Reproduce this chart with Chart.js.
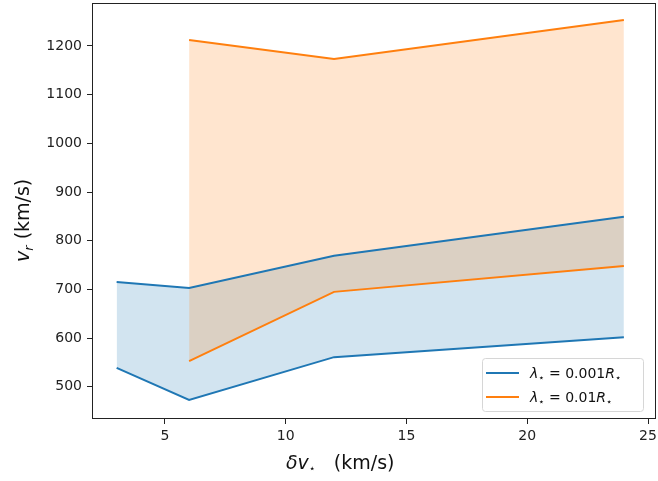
<!DOCTYPE html>
<html>
<head>
<meta charset="utf-8">
<script src="https://cdn.jsdelivr.net/npm/chart.js@4.4.1/dist/chart.umd.min.js"></script>
<style>
    html, body { margin: 0; padding: 0; background: #fff; }
</style>
</head>
<body>
<canvas id="chart" width="658" height="481"></canvas>
<script>
// values
const blueX = [3, 6, 12, 24];
const blueUpper = [715, 703, 769, 849];
const blueLower = [539, 473, 561, 602];
const orangeX = [6, 12, 24];
const orangeUpper = [1212, 1173, 1253];
const orangeLower = [553, 695, 748];
const xTicks = [5, 10, 15, 20, 25];
const yTicks = [500, 600, 700, 800, 900, 1000, 1100, 1200];
const legendLabels = ["0.001", "0.01"];

const BLUE = "#1f77b4";
const ORANGE = "#ff7f0e";
const FONT = "DejaVu Sans";

const pts = (xs, ys) => xs.map((x, i) => ({ x, y: ys[i] }));

// draw a run of text pieces: [text, size, style, dy]
function drawRuns(ctx, runs, x, y) {
    let cx = x;
    for(const [text, size, style, dy] of runs) {
        ctx.font = `${style} ${size}px "${FONT}"`;
        ctx.fillText(text, cx, y + dy);
        cx += ctx.measureText(text).width;
    }
    return cx;
}

const decor = {
    id: "decor",
    afterDraw(chart) {
        const { ctx, chartArea: a } = chart;
        ctx.save();

        // frame
        ctx.strokeStyle = "#222";
        ctx.lineWidth = 1;
        ctx.strokeRect(a.left + 0.5, a.top + 0.5, a.right - a.left - 1, a.bottom - a.top - 1);

        ctx.fillStyle = "#111";
        ctx.textBaseline = "alphabetic";
        ctx.textAlign = "left";

        // x title
        drawRuns(ctx, [
            ["δ", 19, "italic", 0],
            ["v", 19, "italic", 0],
            ["⋆", 11, "normal", 3],
            ["   (km/s)", 19, "normal", 0],
        ], 286, 469);

        // y title
        ctx.save();
        ctx.translate(29, 262);
        ctx.rotate(-Math.PI / 2);
        drawRuns(ctx, [
            ["v", 19, "italic", 0],
            ["r", 13, "italic", 4],
            [" (km/s)", 19, "normal", 0],
        ], 0, 0);
        ctx.restore();

        // legend
        const bx = 482, by = 358, bw = 161, bh = 53, r = 3;
        ctx.beginPath();
        ctx.roundRect(bx + 0.5, by + 0.5, bw, bh, r);
        ctx.fillStyle = "rgba(255,255,255,0.8)";
        ctx.fill();
        ctx.strokeStyle = "#d6d6d6";
        ctx.stroke();

        const colors = [BLUE, ORANGE];
        legendLabels.forEach((lab, i) => {
            const ly = 373 + i * 24;
            ctx.strokeStyle = colors[i];
            ctx.lineWidth = 2;
            ctx.beginPath();
            ctx.moveTo(486, ly);
            ctx.lineTo(519, ly);
            ctx.stroke();
            ctx.fillStyle = "#111";
            drawRuns(ctx, [
                ["λ", 14, "italic", 0],
                ["⋆", 10, "normal", 3],
                [" = " + lab, 14, "normal", 0],
                ["R", 14, "italic", 0],
                ["⋆", 10, "normal", 3],
            ], 530, ly + 5);
        });

        ctx.restore();
    },
};

const tickFont = { family: FONT, size: 14 };

new Chart(document.getElementById("chart"), {
    type: "line",
    data: {
        datasets: [
            {
                label: "orange upper",
                data: pts(orangeX, orangeUpper),
                borderColor: ORANGE,
                fill: false,
            },
            {
                label: "orange lower",
                data: pts(orangeX, orangeLower),
                borderColor: ORANGE,
                backgroundColor: "rgba(255,127,14,0.2)",
                fill: "-1",
            },
            {
                label: "blue upper",
                data: pts(blueX, blueUpper),
                borderColor: BLUE,
                fill: false,
            },
            {
                label: "blue lower",
                data: pts(blueX, blueLower),
                borderColor: BLUE,
                backgroundColor: "rgba(31,119,180,0.2)",
                fill: "-1",
            },
        ],
    },
    options: {
        responsive: false,
        animation: false,
        elements: {
            line: { borderWidth: 2, tension: 0 },
            point: { radius: 0 },
        },
        layout: { padding: { top: 3, right: 2, left: 0, bottom: 0 } },
        scales: {
            x: {
                type: "linear",
                min: 1.98,
                max: 25.33,
                afterBuildTicks: s => { s.ticks = xTicks.map(v => ({ value: v })); },
                afterFit: s => {
                    s.height = 62;
                    s.paddingLeft = 0;
                    s.paddingRight = 0;
                },
                grid: { drawOnChartArea: false, drawTicks: true, tickLength: 5, color: "#222" },
                border: { display: false },
                ticks: { font: tickFont, color: "#222", padding: 4, maxRotation: 0, callback: v => String(v) },
            },
            y: {
                min: 434,
                max: 1288,
                afterBuildTicks: s => { s.ticks = yTicks.map(v => ({ value: v })); },
                afterFit: s => {
                    s.width = 92;
                    s.paddingTop = 0;
                    s.paddingBottom = 0;
                },
                grid: { drawOnChartArea: false, drawTicks: true, tickLength: 5, color: "#222" },
                border: { display: false },
                ticks: { font: tickFont, color: "#222", padding: 5, callback: v => String(v) },
            },
        },
        plugins: {
            legend: { display: false },
            tooltip: { enabled: false },
            filler: { drawTime: "beforeDatasetsDraw" },
        },
    },
    plugins: [decor],
});
</script>
</body>
</html>
